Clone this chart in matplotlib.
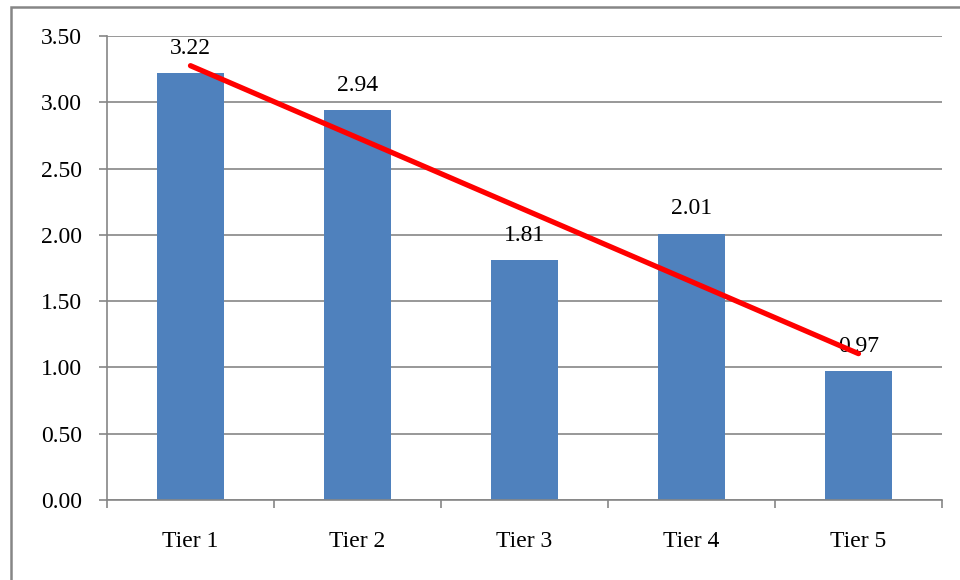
import numpy as np
import matplotlib.pyplot as plt
from matplotlib.patches import Rectangle

tiers = ["Tier 1", "Tier 2", "Tier 3", "Tier 4", "Tier 5"]
scores = [3.22, 2.94, 1.81, 2.01, 0.97]

plt.rcParams['font.family'] = ['Liberation Serif', 'DejaVu Serif']

fig = plt.figure(figsize=(9.6, 5.8), dpi=100)
ax = fig.add_axes([107 / 960, 80 / 580, 835 / 960, 464 / 580])

x = np.arange(len(tiers))
bars = ax.bar(x, scores, width=0.4, color="#4F81BD", zorder=2)

# linear trendline through the bar values
slope, intercept = np.polyfit(x, scores, 1)
ax.plot(x, slope * x + intercept, color="#FF0000", lw=3.8,
        solid_capstyle="round", zorder=4)

for xi, v in zip(x, scores):
    ax.annotate("%.2f" % v, (xi, v), xytext=(0, 18), textcoords="offset points",
                ha="center", va="center", fontsize=17, zorder=3)

ax.set_xlim(-0.5, len(tiers) - 0.5)
ax.set_ylim(0, 3.5)
ax.set_yticks(np.arange(0, 3.51, 0.5))
ax.set_yticklabels(["%.2f" % t for t in np.arange(0, 3.51, 0.5)])
ax.yaxis.grid(True, color="#868686", lw=1.2, zorder=0)

ax.set_xticks(x)
ax.set_xticklabels(tiers)
ax.set_xticks(np.arange(-0.5, len(tiers)), minor=True)
ax.tick_params(axis="x", which="major", length=0, pad=22, labelsize=17)
ax.tick_params(axis="x", which="minor", length=6, width=1.2, color="#868686", direction="out")
ax.tick_params(axis="y", length=6, width=1.2, color="#868686", pad=12, labelsize=17)

for side in ["top", "right"]:
    ax.spines[side].set_visible(False)
for side in ["left", "bottom"]:
    ax.spines[side].set_color("#868686")
    ax.spines[side].set_linewidth(1.2)

# outer chart frame
fig.patches.append(Rectangle((11 / 960, -0.05), 1.0, (580 - 7) / 580 + 0.05,
                             transform=fig.transFigure, fill=False,
                             edgecolor="#868686", lw=1.8))

fig.savefig("out.png", dpi=100)
